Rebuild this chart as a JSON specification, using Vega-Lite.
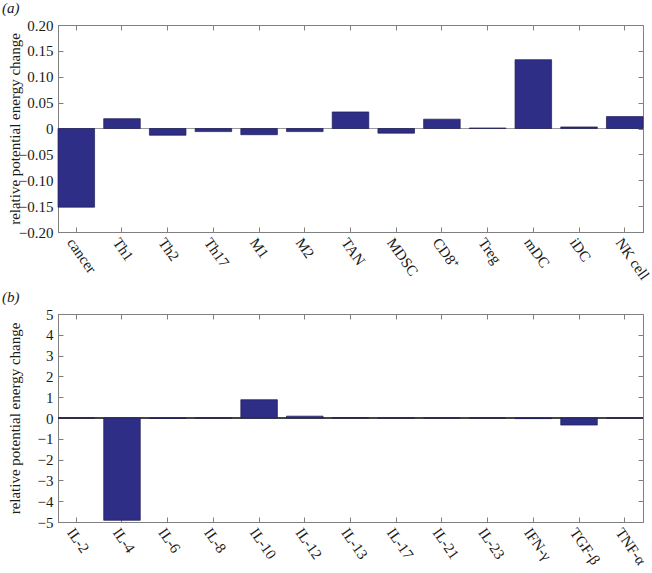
{
  "$schema": "https://vega.github.io/schema/vega-lite/v6.json",
  "padding": {"left": 1, "top": 0, "right": 0, "bottom": 0},
  "config": {
    "font": "Liberation Serif",
    "view": {"stroke": "#808080", "strokeWidth": 1},
    "axis": {"domainColor": "#808080", "tickColor": "#808080", "grid": false, "labelFont": "Liberation Serif", "labelFontSize": 15, "labelColor": "#1a1a1a", "titleFont": "Liberation Serif", "titleFontSize": 15, "titleFontWeight": "normal", "titleColor": "#1a1a1a", "tickSize": -5, "labelOverlap": false},
    "title": {"font": "Liberation Serif", "fontSize": 15, "fontStyle": "italic", "fontWeight": "normal", "anchor": "start", "frame": "bounds", "offset": 2, "dx": -5, "color": "#1a1a1a"}
  },
  "datasets": {
    "cells": [
      {"type": "cancer", "change": -0.152},
      {"type": "Th1", "change": 0.019},
      {"type": "Th2", "change": -0.013},
      {"type": "Th17", "change": -0.006},
      {"type": "M1", "change": -0.012},
      {"type": "M2", "change": -0.006},
      {"type": "TAN", "change": 0.032},
      {"type": "MDSC", "change": -0.009},
      {"type": "CD8⁺", "change": 0.018},
      {"type": "Treg", "change": 0.001},
      {"type": "mDC", "change": 0.133},
      {"type": "iDC", "change": 0.003},
      {"type": "NK cell", "change": 0.023}
    ],
    "cytokines": [
      {"type": "IL-2", "change": 0.0},
      {"type": "IL-4", "change": -4.92},
      {"type": "IL-6", "change": -0.02},
      {"type": "IL-8", "change": 0.0},
      {"type": "IL-10", "change": 0.88},
      {"type": "IL-12", "change": 0.09},
      {"type": "IL-13", "change": 0.01},
      {"type": "IL-17", "change": 0.0},
      {"type": "IL-21", "change": 0.0},
      {"type": "IL-23", "change": 0.0},
      {"type": "IFN-γ", "change": -0.03},
      {"type": "TGF-β", "change": -0.34},
      {"type": "TNF-α", "change": 0.0}
    ]
  },
  "spacing": 6,
  "vconcat": [
    {
      "title": "(a)",
      "width": 585,
      "height": 207,
      "data": {"name": "cells"},
      "layer": [
        {"mark": {"type": "rule", "color": "#9a9a9a", "strokeWidth": 1}, "encoding": {"y": {"datum": 0, "type": "quantitative", "axis": null}}},
        {
          "mark": {"type": "bar", "color": "#2e2e87", "stroke": "#1c1c55", "strokeWidth": 0.7},
          "encoding": {
            "x": {"field": "type", "type": "nominal", "sort": null, "scale": {"paddingInner": 0.2, "paddingOuter": 0}, "axis": {"title": null, "labelAngle": 55, "labelAlign": "left", "labelBaseline": "top", "labelPadding": 8}},
            "y": {"field": "change", "type": "quantitative", "scale": {"domain": [-0.2, 0.2], "nice": false, "zero": false}, "axis": {"title": "relative potential energy change", "values": [-0.2, -0.15, -0.1, -0.05, 0, 0.05, 0.1, 0.15, 0.2], "labelExpr": "datum.value == 0 ? '0' : format(datum.value, '.2f')", "labelPadding": 10, "titleX": -36, "titleY": 103.5, "titleAngle": -90}}
          }
        },
        {
          "mark": {"type": "bar", "opacity": 0},
          "encoding": {
            "x": {"field": "type", "type": "nominal", "sort": null, "axis": {"orient": "top", "labels": false, "title": null, "domain": false}},
            "y": {"field": "change", "type": "quantitative", "axis": {"orient": "right", "labels": false, "title": null, "domain": false, "values": [-0.2, -0.15, -0.1, -0.05, 0, 0.05, 0.1, 0.15, 0.2]}}
          }
        }
      ],
      "resolve": {"axis": {"x": "independent", "y": "independent"}}
    },
    {
      "title": "(b)",
      "width": 585,
      "height": 208,
      "data": {"name": "cytokines"},
      "layer": [
        {"mark": {"type": "rule", "color": "#444444", "strokeWidth": 1}, "encoding": {"y": {"datum": 0, "type": "quantitative", "axis": null}}},
        {
          "mark": {"type": "bar", "color": "#2e2e87", "stroke": "#1c1c55", "strokeWidth": 0.7},
          "encoding": {
            "x": {"field": "type", "type": "nominal", "sort": null, "scale": {"paddingInner": 0.2, "paddingOuter": 0}, "axis": {"title": null, "labelAngle": 55, "labelAlign": "left", "labelBaseline": "top", "labelPadding": 8}},
            "y": {"field": "change", "type": "quantitative", "scale": {"domain": [-5, 5], "nice": false, "zero": false}, "axis": {"title": "relative potential energy change", "values": [-5, -4, -3, -2, -1, 0, 1, 2, 3, 4, 5], "labelPadding": 10, "titleX": -36, "titleY": 104, "titleAngle": -90}}
          }
        },
        {
          "mark": {"type": "bar", "opacity": 0},
          "encoding": {
            "x": {"field": "type", "type": "nominal", "sort": null, "axis": {"orient": "top", "labels": false, "title": null, "domain": false}},
            "y": {"field": "change", "type": "quantitative", "axis": {"orient": "right", "labels": false, "title": null, "domain": false, "values": [-5, -4, -3, -2, -1, 0, 1, 2, 3, 4, 5]}}
          }
        }
      ],
      "resolve": {"axis": {"x": "independent", "y": "independent"}}
    }
  ]
}
